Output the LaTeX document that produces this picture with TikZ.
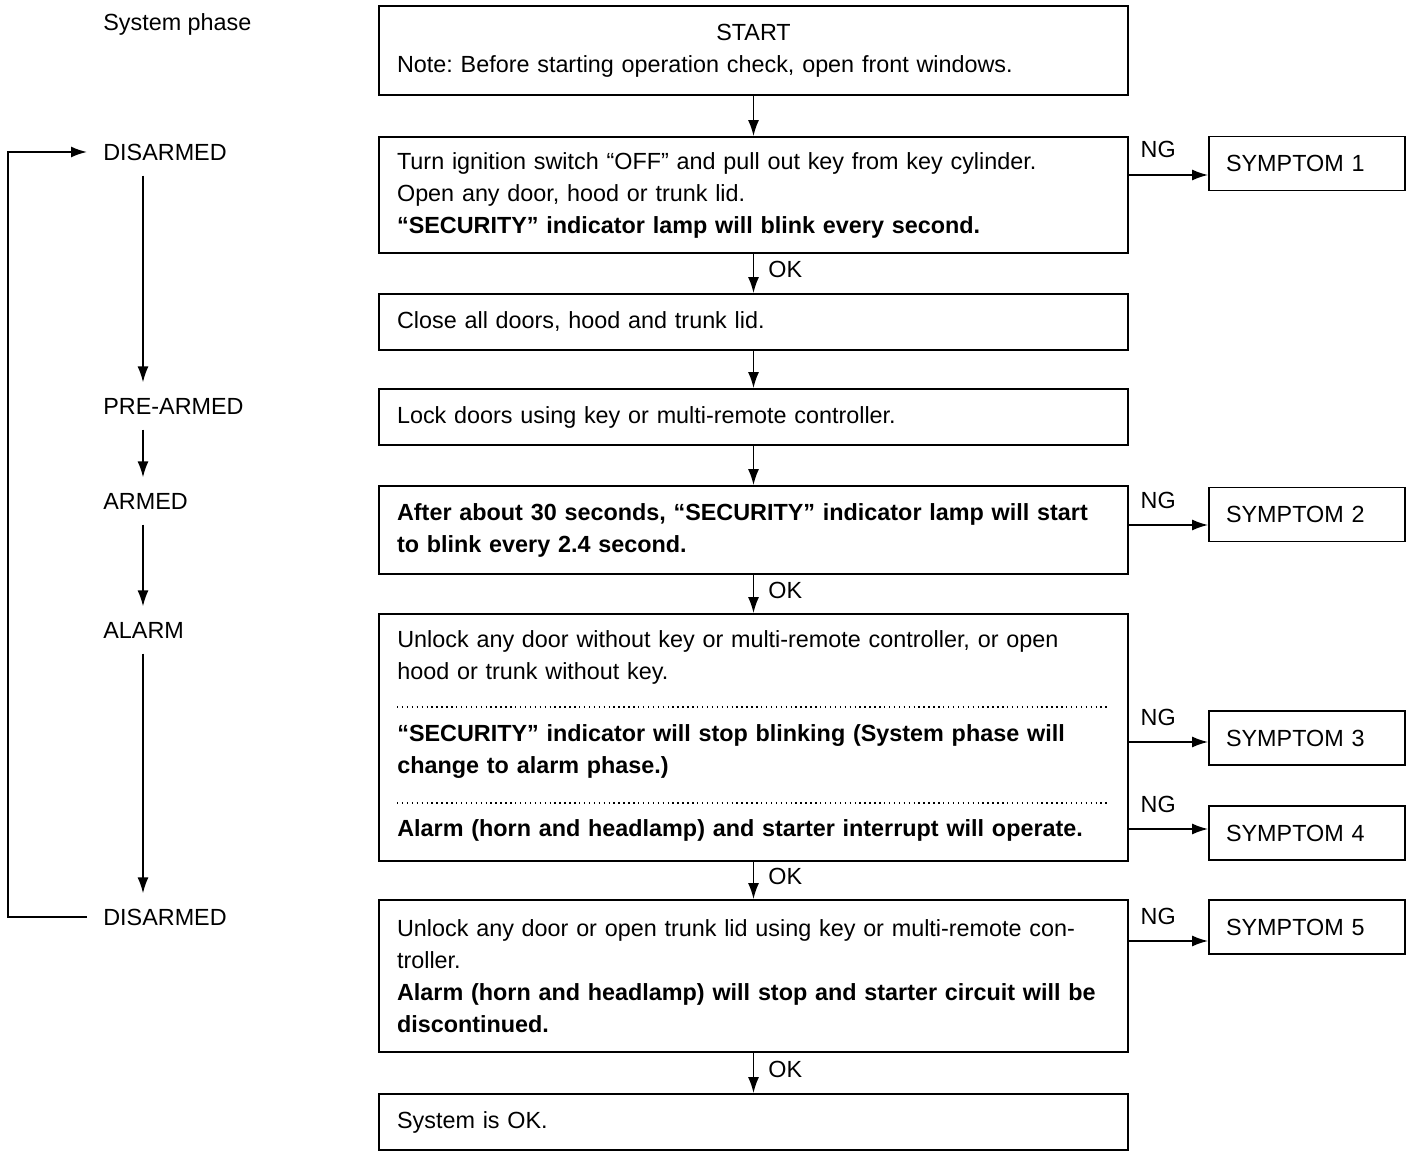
\documentclass[tikz,border=0pt]{standalone}
\usepackage{fontspec}
\setmainfont{Liberation Sans}
\usetikzlibrary{arrows.meta,positioning,calc}

\tikzset{
  stepbox/.style={draw, line width=1pt, minimum width=14.98cm, text width=14.26cm, inner xsep=0.36cm, align=left},
  symbox/.style={draw, line width=1pt, minimum width=3.92cm, minimum height=1.08cm, text width=3.24cm, inner xsep=0.34cm, align=left},
  phase/.style={anchor=west, inner xsep=0.32cm, inner ysep=0.3cm, text height=0.33cm, text depth=0pt},
  textline/.style={anchor=west, inner sep=0pt, text width=14.26cm, align=left},
  flow/.style={-{Latex[length=3.2mm,width=2.2mm]}, line width=1pt},
  oklabel/.style={right, inner sep=0pt, xshift=0.28cm},
  nglabel/.style={anchor=base west, inner sep=0pt, xshift=0.22cm, yshift=0.34cm},
}

\begin{document}
\begin{tikzpicture}[x=0.02cm, y=-0.02cm, font=\fontsize{13.3pt}{18.2pt}\selectfont\frenchspacing]
  \useasboundingbox (0,0) rectangle (1424,1158);

  % System phase column
  \node[phase] (sysph) at (87,22) {System phase};
  \node[phase] (dis1) at (87,152) {DISARMED};
  \node[phase] (pre) at (87,406) {PRE-ARMED};
  \node[phase] (armed) at (87,501) {ARMED};
  \node[phase] (alarm) at (87,630) {ALARM};
  \node[phase] (dis2) at (87,917) {DISARMED};

  \coordinate (col) at (143,0);
  \coordinate (loop) at (8,0);
  \draw[flow] (dis1.south -| col) -- (pre.north -| col);
  \draw[flow] (pre.south -| col) -- (armed.north -| col);
  \draw[flow] (armed.south -| col) -- (alarm.north -| col);
  \draw[flow] (alarm.south -| col) -- (dis2.north -| col);
  \draw[flow] (dis2.west) -- (dis2.west -| loop) -- (dis1.west -| loop) -- (dis1.west);

  % Check steps
  \node[stepbox, minimum height=1.78cm] (start) at (753.5,50.5)
    {\makebox[14.26cm]{START}\\Note: Before starting operation check, open front windows.};
  \node[stepbox, minimum height=2.32cm] (box1) at (753.5,195)
    {Turn ignition switch “OFF” and pull out key from key cylinder.\\
     Open any door, hood or trunk lid.\\
     \textbf{“SECURITY” indicator lamp will blink every second.}};
  \node[stepbox, minimum height=1.12cm] (box2) at (753.5,322)
    {Close all doors, hood and trunk lid.};
  \node[stepbox, minimum height=1.12cm] (box3) at (753.5,417)
    {Lock doors using key or multi-remote controller.};
  \node[stepbox, minimum height=1.76cm] (box4) at (753.5,530)
    {\textbf{After about 30 seconds, “SECURITY” indicator lamp will start\\
     to blink every 2.4 second.}};
  \node[stepbox, minimum height=4.94cm] (box5) at (753.5,737.5) {};
  \node[textline] (t5a) at (397,657.5)
    {Unlock any door without key or multi-remote controller, or open\\
     hood or trunk without key.};
  \node[textline] (t5b) at (397,751.5)
    {\textbf{“SECURITY” indicator will stop blinking (System phase will\\
     change to alarm phase.)}};
  \node[textline] (t5c) at (397,830)
    {\textbf{Alarm (horn and headlamp) and starter interrupt will operate.}};
  \draw[dotted, line width=0.8pt] (397,707) -- (1110,707);
  \draw[dotted, line width=0.8pt] (397,803) -- (1110,803);
  \node[stepbox, minimum height=3.04cm] (box6) at (753.5,976)
    {Unlock any door or open trunk lid using key or multi-remote con-\\
     troller.\\
     \textbf{Alarm (horn and headlamp) will stop and starter circuit will be\\
     discontinued.}};
  \node[stepbox, minimum height=1.12cm] (box7) at (753.5,1122)
    {System is OK.};

  \draw[flow] (start) -- (box1);
  \draw[flow] (box1) -- (box2) node[oklabel, pos=0.4] {OK};
  \draw[flow] (box2) -- (box3);
  \draw[flow] (box3) -- (box4);
  \draw[flow] (box4) -- (box5) node[oklabel, pos=0.4] {OK};
  \draw[flow] (box5) -- (box6) node[oklabel, pos=0.4] {OK};
  \draw[flow] (box6) -- (box7) node[oklabel, pos=0.4] {OK};

  % Symptoms
  \node[symbox] (sym1) at (1307,163.5) {SYMPTOM 1};
  \node[symbox] (sym2) at (1307,514.5) {SYMPTOM 2};
  \node[symbox] (sym3) at (1307,738) {SYMPTOM 3};
  \node[symbox] (sym4) at (1307,833) {SYMPTOM 4};
  \node[symbox] (sym5) at (1307,927) {SYMPTOM 5};

  \draw[flow] (box1.east |- 0,175) -- (sym1.west |- 0,175) node[nglabel, pos=0] {NG};
  \draw[flow] (box4.east |- 0,525) -- (sym2.west |- 0,525) node[nglabel, pos=0] {NG};
  \draw[flow] (box5.east |- 0,742) -- (sym3.west |- 0,742) node[nglabel, pos=0] {NG};
  \draw[flow] (box5.east |- 0,829) -- (sym4.west |- 0,829) node[nglabel, pos=0] {NG};
  \draw[flow] (box6.east |- 0,941) -- (sym5.west |- 0,941) node[nglabel, pos=0] {NG};
\end{tikzpicture}
\end{document}
